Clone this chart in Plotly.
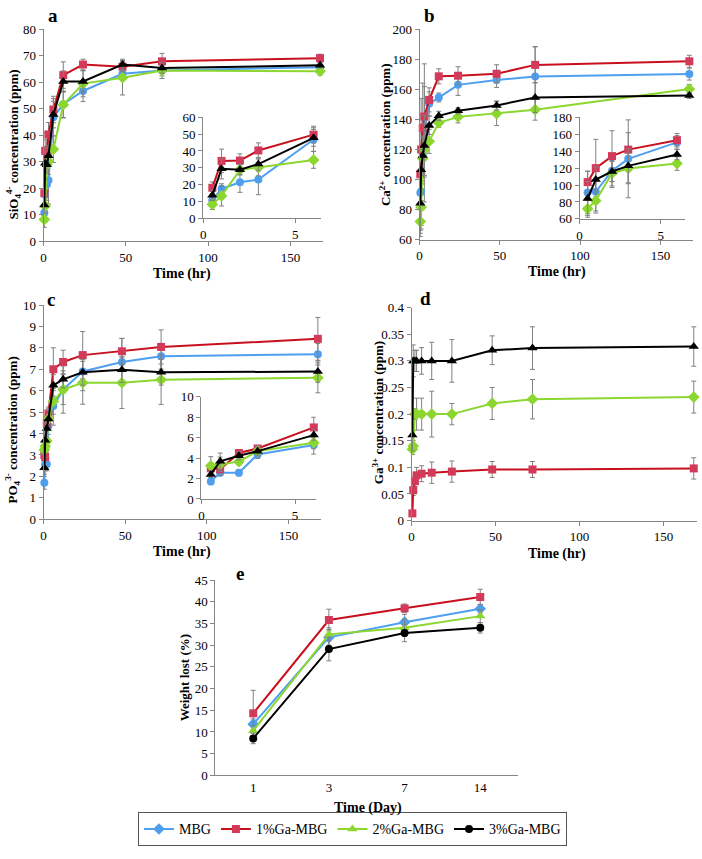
import plotly.graph_objects as go

# sampling times (hr) and days
t_hr = [0.5, 1, 2, 3, 6, 12, 24, 48, 72, 168]
n_in = 5  # first points repeated in the insets
days = ['1', '3', '7', '14']

names = ['MBG', '1%Ga-MBG', '2%Ga-MBG', '3%Ga-MBG']

# a: SiO4 4- (ppm)
si_mbg = [10.7, 17.5, 21.4, 23.0, 46.8, 51.7, 56.7, 63.2, 64.4, 65.7]
si_ga1 = [18.1, 34.1, 34.3, 40.3, 49.7, 62.7, 66.7, 65.9, 67.9, 69.1]
si_ga2 = [8.2, 13.3, 28.8, 30.2, 34.7, 51.5, 59.5, 61.7, 64.4, 64.2]
si_ga3 = [13.6, 29.4, 28.8, 32.2, 47.8, 60.3, 60.3, 66.7, 65.4, 66.4]
si_err_mbg = [2, 3, 6, 9, 7, 5, 4, 2, 3, 1]
si_err_ga1 = [3.5, 7, 4, 4.5, 5, 5, 2, 2, 3, 1.5]
si_err_ga2 = [3, 6, 3, 5, 5, 5, 5, 6.5, 2, 1.5]
si_err_ga3 = [3, 6, 3, 4, 5, 4, 4, 2, 2, 1]

# b: Ca 2+ (ppm)
ca_mbg = [91.2, 92, 117, 131, 150.4, 154.6, 163, 166.3, 168.5, 170.2]
ca_ga1 = [103.5, 120, 134.2, 141.9, 153, 168.7, 169.1, 170.4, 176.3, 178.7]
ca_ga2 = [72, 81.5, 114, 119.6, 125.4, 137.8, 141.7, 143.9, 146.5, 160.2]
ca_ga3 = [84.2, 106.5, 116, 122.7, 136, 142.4, 145.7, 149.3, 154.6, 156]
ca_err_mbg = [25, 25, 20, 46, 8, 3, 7, 5, 20, 4]
ca_err_ga1 = [13, 34, 30, 20, 8, 5, 6, 6, 12, 4]
ca_err_ga2 = [10, 12, 15, 18, 8, 3, 4, 8, 7, 3]
ca_err_ga3 = [20, 15, 12, 20, 6, 3, 2, 3, 10, 2]

# c: PO4 3- (ppm)
po_mbg = [1.7, 2.56, 2.56, 4.36, 5.29, 6.05, 6.9, 7.34, 7.61, 7.7]
po_ga1 = [3.0, 2.9, 4.5, 4.94, 7.0, 7.34, 7.66, 7.84, 8.04, 8.42]
po_ga2 = [3.24, 3.4, 3.65, 4.68, 5.5, 6.05, 6.37, 6.37, 6.51, 6.6]
po_ga3 = [2.4, 3.69, 4.23, 4.68, 6.25, 6.53, 6.86, 6.98, 6.86, 6.89]
po_err_mbg = [0.3, 0.3, 0.3, 0.4, 0.9, 0.7, 0.9, 1.1, 0.6, 0.5]
po_err_ga1 = [0.5, 0.6, 0.3, 0.3, 1.0, 0.55, 1.1, 0.6, 0.8, 1.0]
po_err_ga2 = [0.9, 0.7, 0.3, 0.5, 0.6, 1.1, 1.0, 1.2, 1.15, 0.7]
po_err_ga3 = [0.3, 0.8, 0.4, 0.4, 0.5, 0.4, 0.6, 0.6, 0.6, 0.5]

# d: Ga 3+ (ppm)
ga_ga1 = [0.0135, 0.057, 0.074, 0.085, 0.088, 0.09, 0.092, 0.096, 0.096, 0.098]
ga_ga2 = [0.134, 0.14, 0.2, 0.2, 0.2, 0.2, 0.2, 0.22, 0.228, 0.232]
ga_ga3 = [0.161, 0.3, 0.3, 0.3, 0.3, 0.3, 0.3, 0.32, 0.324, 0.327]
ga_err_ga1 = [0.005, 0.01, 0.01, 0.015, 0.015, 0.02, 0.02, 0.015, 0.015, 0.02]
ga_err_ga2 = [0.01, 0.01, 0.01, 0.03, 0.03, 0.043, 0.02, 0.03, 0.037, 0.03]
ga_err_ga3 = [0.03, 0.03, 0.02, 0.02, 0.025, 0.035, 0.04, 0.027, 0.04, 0.037]

# e: weight lost (%)
wl_mbg = [11.8, 31.8, 35.3, 38.4]
wl_ga1 = [14.3, 35.8, 38.5, 41.1]
wl_ga2 = [10.3, 32.5, 34.0, 36.7]
wl_ga3 = [8.5, 29.1, 32.8, 34.0]
wl_err_mbg = [1.2, 1.8, 1.8, 1.0]
wl_err_ga1 = [5.3, 2.5, 1.0, 1.8]
wl_err_ga2 = [1.2, 1.5, 2.0, 1.5]
wl_err_ga3 = [1.2, 2.7, 2.0, 1.2]

line_col = ['#4f9ff0', '#c8101e', '#8cd630', '#000000']
mark_col = ['#4f9ff0', '#d33a5a', '#8cd630', '#000000']
sym_t = ['circle', 'square', 'diamond', 'triangle-up']
sym_e = ['diamond', 'square', 'triangle-up', 'circle']
msize = {'circle': 8, 'square': 8, 'diamond': 9, 'triangle-up': 9}

FONT = 'Liberation Serif'
W, H = 702, 859

fig = go.Figure()


def add(x, y, err, k, xa, ya, symbols, legend=False):
    s = symbols[k]
    fig.add_trace(go.Scatter(
        x=x, y=y, mode='lines+markers', name=names[k], showlegend=legend,
        xaxis=xa, yaxis=ya, cliponaxis=False,
        line=dict(color=line_col[k], width=2),
        marker=dict(symbol=s, size=msize[s], color=mark_col[k]),
        error_y=dict(type='data', array=err, color='#808080', thickness=1, width=2.5),
    ))


panels = [
    ('x', 'y', 'x2', 'y2', [si_mbg, si_ga1, si_ga2, si_ga3], [si_err_mbg, si_err_ga1, si_err_ga2, si_err_ga3]),
    ('x3', 'y3', 'x4', 'y4', [ca_mbg, ca_ga1, ca_ga2, ca_ga3], [ca_err_mbg, ca_err_ga1, ca_err_ga2, ca_err_ga3]),
    ('x5', 'y5', 'x6', 'y6', [po_mbg, po_ga1, po_ga2, po_ga3], [po_err_mbg, po_err_ga1, po_err_ga2, po_err_ga3]),
]
for xm, ym, xi, yi, ys, es in panels:
    for k in range(4):
        add(t_hr, ys[k], es[k], k, xm, ym, sym_t)
        add(t_hr[:n_in], ys[k][:n_in], es[k][:n_in], k, xi, yi, sym_t)

for k, y, e in [(1, ga_ga1, ga_err_ga1), (2, ga_ga2, ga_err_ga2), (3, ga_ga3, ga_err_ga3)]:
    add(t_hr, y, e, k, 'x7', 'y7', sym_t)

for k, y, e in [(0, wl_mbg, wl_err_mbg), (1, wl_ga1, wl_err_ga1),
                (2, wl_ga2, wl_err_ga2), (3, wl_ga3, wl_err_ga3)]:
    add(days, y, e, k, 'x8', 'y8', sym_e, legend=True)


def px_x(a, b):
    return [a / W, b / W]


def px_y(top, bottom):
    return [1 - bottom / H, 1 - top / H]


ax = dict(showline=True, linecolor='#868686', linewidth=1, ticks='outside',
          tickcolor='#868686', ticklen=4, showgrid=False, zeroline=False,
          tickfont=dict(family=FONT, size=13, color='black'))

layout = dict(
    # a
    xaxis=dict(ax, domain=px_x(40.7, 321.7), range=[0, 170], dtick=50, anchor='y'),
    yaxis=dict(ax, domain=px_y(22.7, 238.3), range=[0, 80], dtick=10, anchor='x'),
    xaxis2=dict(ax, domain=px_x(201, 319.3), range=[0, 6.4], dtick=5, anchor='y2'),
    yaxis2=dict(ax, domain=px_y(112.3, 215), range=[0, 60], dtick=10, anchor='x2'),
    # b
    xaxis3=dict(ax, domain=px_x(418.3, 692.5), range=[0, 170], dtick=50, anchor='y3'),
    yaxis3=dict(ax, domain=px_y(22.7, 236.7), range=[60, 200], dtick=20, anchor='x3'),
    xaxis4=dict(ax, domain=px_x(579, 685), range=[0, 6.5], dtick=5, anchor='y4'),
    yaxis4=dict(ax, domain=px_y(112.3, 215.7), range=[60, 180], dtick=20, anchor='x4'),
    # c
    xaxis5=dict(ax, domain=px_x(40.7, 319.5), range=[0, 170], dtick=50, anchor='y5'),
    yaxis5=dict(ax, domain=px_y(303.3, 521.3), range=[0, 10], dtick=1, anchor='x5'),
    xaxis6=dict(ax, domain=px_x(199.3, 314), range=[0, 6.1], dtick=5, anchor='y6'),
    yaxis6=dict(ax, domain=px_y(396.7, 500.7), range=[0, 10], dtick=2, anchor='x6'),
    # d
    xaxis7=dict(ax, domain=px_x(410.3, 697.1), range=[0, 170], dtick=50, anchor='y7'),
    yaxis7=dict(ax, domain=px_y(306, 522.7), range=[0, 0.4], dtick=0.05, anchor='x7'),
    # e
    xaxis8=dict(ax, domain=px_x(213.3, 517.3), type='category', range=[-0.5, 3.5],
                ticks='', anchor='y8'),
    yaxis8=dict(ax, domain=px_y(583.3, 782), range=[0, 45], dtick=5, anchor='x8'),
)
fig.update_layout(**layout)

ann = []
tf = dict(family=FONT, size=13, color='black')
ytitles = [
    ('<b>SiO<sub>4</sub><sup>4-</sup> concentration (ppm)</b>', 10, 140),
    ('<b>Ca<sup>2+</sup> concentration (ppm)</b>', 383, 130),
    ('<b>PO<sub>4</sub><sup>3-</sup> concentration (ppm)</b>', 10, 430),
    ('<b>Ga<sup>3+</sup> concentration (ppm)</b>', 376, 413),
    ('<b>Weight lost (%)</b>', 182, 683),
]
for txt, x, y in ytitles:
    ann.append(dict(text=txt, x=x / W, y=1 - y / H, xref='paper', yref='paper',
                    xanchor='center', yanchor='middle',
                    textangle=-90, showarrow=False, font=tf))

xtitles = [
    ('<b>Time (hr)</b>', 180, 272),
    ('<b>Time (hr)</b>', 556, 270),
    ('<b>Time (hr)</b>', 180, 555),
    ('<b>Time (hr)</b>', 556, 557),
    ('<b>Time (Day)</b>', 367, 815),
]
for txt, x, y in xtitles:
    ann.append(dict(text=txt, x=x / W, y=1 - y / H, xref='paper', yref='paper',
                    xanchor='center', yanchor='middle',
                    showarrow=False, font=dict(family=FONT, size=14, color='black')))

letters = [('a', 50, 9), ('b', 428, 9), ('c', 48, 298), ('d', 424, 297), ('e', 238, 577)]
for txt, x, y in letters:
    ann.append(dict(text='<b>%s</b>' % txt, x=x / W, y=1 - y / H, xref='paper', yref='paper',
                    xanchor='center', yanchor='middle',
                    showarrow=False, font=dict(family=FONT, size=19, color='black')))

fig.update_layout(
    annotations=ann,
    width=W, height=H,
    margin=dict(l=0, r=0, t=0, b=0),
    paper_bgcolor='white', plot_bgcolor='white',
    font=dict(family=FONT, size=13, color='black'),
    legend=dict(orientation='h', x=0.5, y=1 - 837 / H, xanchor='center', yanchor='middle',
                bordercolor='#555555', borderwidth=1, font=dict(family=FONT, size=14),
                itemwidth=30, tracegroupgap=0),
)

fig.write_html("out.html", config={'displayModeBar': False},
               post_script="document.body.style.margin='0';document.body.style.overflow='hidden';")
